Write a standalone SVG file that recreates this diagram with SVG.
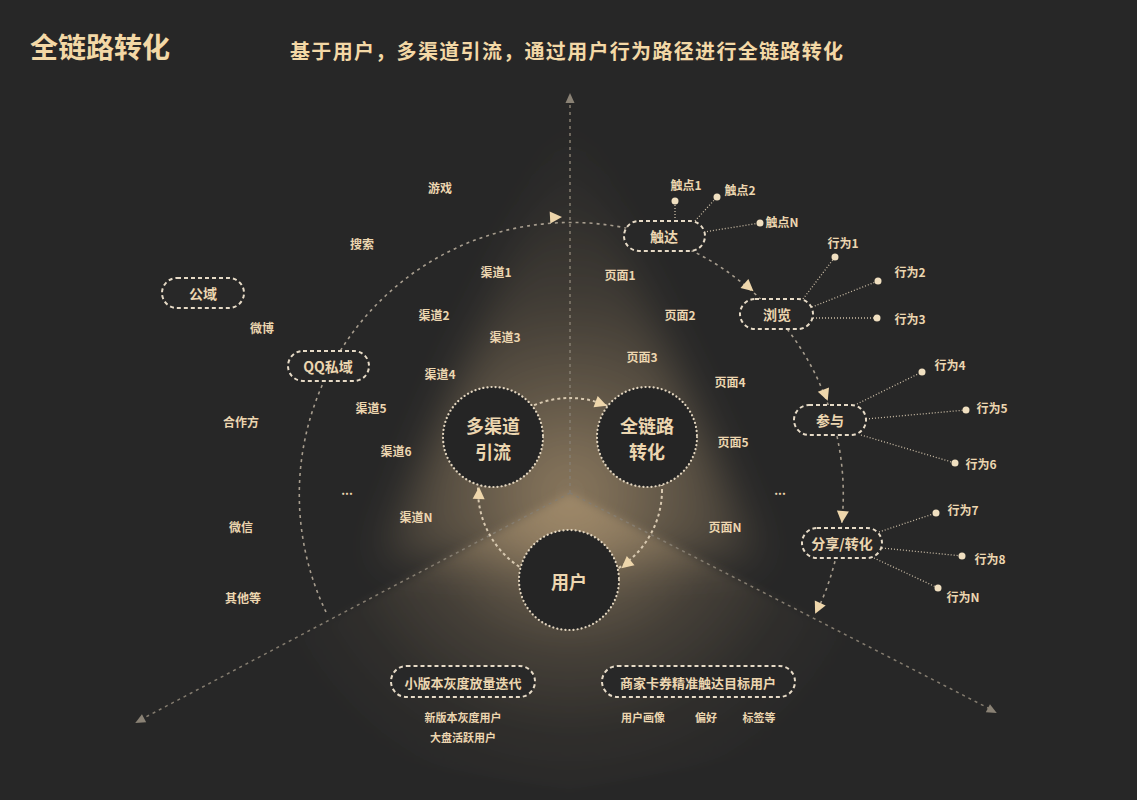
<svg xmlns="http://www.w3.org/2000/svg" xmlns:xlink="http://www.w3.org/1999/xlink" width="1137" height="800" viewBox="0 0 1137 800">
<defs>
<radialGradient id="glowUp" cx="570" cy="493" r="380" gradientUnits="userSpaceOnUse">
<stop offset="0" stop-color="#a08a6a" stop-opacity="0.85"/>
<stop offset="0.25" stop-color="#a08a6a" stop-opacity="0.5"/>
<stop offset="0.5" stop-color="#a08a6a" stop-opacity="0.22"/>
<stop offset="0.75" stop-color="#a08a6a" stop-opacity="0.07"/>
<stop offset="1" stop-color="#a08a6a" stop-opacity="0"/>
</radialGradient>
<radialGradient id="glowDown" cx="570" cy="493" r="320" gradientUnits="userSpaceOnUse">
<stop offset="0" stop-color="#a08a6a" stop-opacity="0.9"/>
<stop offset="0.25" stop-color="#a08a6a" stop-opacity="0.55"/>
<stop offset="0.5" stop-color="#a08a6a" stop-opacity="0.25"/>
<stop offset="0.75" stop-color="#a08a6a" stop-opacity="0.07"/>
<stop offset="1" stop-color="#a08a6a" stop-opacity="0"/>
</radialGradient>
<filter id="blur" x="-30%" y="-30%" width="160%" height="160%"><feGaussianBlur stdDeviation="20"/></filter>
<filter id="blur2" x="-20%" y="-20%" width="140%" height="140%"><feGaussianBlur stdDeviation="5"/></filter>
<path id="ah" d="M2,0 L-10,-6 L-10,6 Z"/>
<path id="gah" d="M2,0 L-8,-4.5 L-8,4.5 Z"/>
<style>
.bg{fill:#272727}
.t{font-family:"Noto Sans CJK SC","Noto Sans",sans-serif;font-weight:bold;fill:#ecd6b0;text-anchor:middle;dominant-baseline:central}
.lab{font-size:12px}
.nt{font-size:14px}
.ct{font-size:18px}
.axis{fill:none;stroke:#857d70;stroke-width:1.5;stroke-dasharray:3 4}
.arc{fill:none;stroke:#a79d8e;stroke-width:1.6;stroke-dasharray:3 4}
.iarc{fill:none;stroke:#d8c9b0;stroke-width:2;stroke-dasharray:3 3}
.pill{fill:#282828;stroke:#e6dac6;stroke-width:2;stroke-dasharray:4 3}
.circ{fill:#252525;stroke:#e2d5bf;stroke-width:2.2;stroke-dasharray:0.1 4;stroke-linecap:round}
.lk{fill:none;stroke:#cdbfa8;stroke-width:1.3;stroke-dasharray:1 2}
.dot{fill:#f0dfc0}
.ahf{fill:#eed6ab}
.gah{fill:#8a8275}
</style>
</defs>
<rect class="bg" x="0" y="0" width="1137" height="800"/>
<polygon points="570,120 380,560 760,560" fill="url(#glowUp)" filter="url(#blur)"/>
<polygon points="570,493 137,722 570,790 995,712" fill="url(#glowDown)" filter="url(#blur2)"/>

<g id="title">
<text class="t" x="30" y="46" style="font-size:28px;text-anchor:start;fill:#f3d8a6">全链路转化</text>
<text class="t" x="290" y="50" textLength="553" style="font-size:20px;text-anchor:start;fill:#f3d8a6">基于用户，多渠道引流，通过用户行为路径进行全链路转化</text>
</g>

<g id="connectors">
<line class="axis" x1="570" y1="493" x2="570" y2="100"/>
<line class="axis" x1="570" y1="493" x2="142" y2="719"/>
<line class="axis" x1="570" y1="493" x2="990" y2="709"/>
<use xlink:href="#gah" class="gah" transform="translate(570,95) rotate(-90)"/>
<use xlink:href="#gah" class="gah" transform="translate(137,722) rotate(152)"/>
<use xlink:href="#gah" class="gah" transform="translate(995,712) rotate(27.3)"/>
<path class="arc" d="M326,612 A272,272 0 1 1 818,609"/>
<use xlink:href="#ah" class="ahf" transform="translate(560,217) rotate(-3)"/>
<use xlink:href="#ah" class="ahf" transform="translate(752,290) rotate(41)"/>
<use xlink:href="#ah" class="ahf" transform="translate(827,399) rotate(69)"/>
<use xlink:href="#ah" class="ahf" transform="translate(842,521) rotate(95)"/>
<use xlink:href="#ah" class="ahf" transform="translate(816,612) rotate(115)"/>
<circle class="iarc" cx="570" cy="490" r="92"/>
<use xlink:href="#ah" class="ahf" transform="translate(605,405) rotate(20)"/>
<use xlink:href="#ah" class="ahf" transform="translate(623,567) rotate(140)"/>
<use xlink:href="#ah" class="ahf" transform="translate(479,489) rotate(-88)"/>
<line class="lk" x1="675" y1="221" x2="675" y2="201"/>
<line class="lk" x1="695" y1="221" x2="717" y2="197"/>
<line class="lk" x1="704" y1="232" x2="760" y2="223"/>
<line class="lk" x1="803" y1="299" x2="835" y2="257"/>
<line class="lk" x1="812" y1="307" x2="878" y2="281"/>
<line class="lk" x1="813" y1="318" x2="877" y2="318"/>
<line class="lk" x1="857" y1="404" x2="922" y2="372"/>
<line class="lk" x1="866" y1="419" x2="966" y2="410"/>
<line class="lk" x1="861" y1="435" x2="955" y2="463"/>
<line class="lk" x1="879" y1="532" x2="936" y2="513"/>
<line class="lk" x1="882" y1="548" x2="962" y2="556"/>
<line class="lk" x1="874" y1="558" x2="938" y2="588"/>
<circle class="dot" cx="675" cy="201" r="3.5"/>
<circle class="dot" cx="717" cy="197" r="3.5"/>
<circle class="dot" cx="760" cy="223" r="3.5"/>
<circle class="dot" cx="835" cy="257" r="3.5"/>
<circle class="dot" cx="878" cy="281" r="3.5"/>
<circle class="dot" cx="877" cy="318" r="3.5"/>
<circle class="dot" cx="922" cy="372" r="3.5"/>
<circle class="dot" cx="966" cy="410" r="3.5"/>
<circle class="dot" cx="955" cy="463" r="3.5"/>
<circle class="dot" cx="936" cy="513" r="3.5"/>
<circle class="dot" cx="962" cy="556" r="3.5"/>
<circle class="dot" cx="938" cy="588" r="3.5"/>
</g>

<g id="node-duoqudao"><circle class="circ" cx="493" cy="437" r="50"/><text class="t ct" x="493" y="425">多渠道</text><text class="t ct" x="493" y="451">引流</text></g>
<g id="node-quanlianlu"><circle class="circ" cx="647" cy="437" r="50"/><text class="t ct" x="647" y="425">全链路</text><text class="t ct" x="647" y="451">转化</text></g>
<g id="node-yonghu"><circle class="circ" cx="569" cy="580" r="50"/><text class="t ct" x="569" y="581">用户</text></g>

<g id="node-gongyu"><rect class="pill" x="162" y="278" width="82" height="30" rx="15"/><text class="t nt" x="203" y="293">公域</text></g>
<g id="node-qq"><rect class="pill" x="288" y="351" width="81" height="30" rx="15"/><text class="t nt" x="328" y="366">QQ私域</text></g>
<g id="node-chuda"><rect class="pill" x="624" y="221" width="81" height="30" rx="15"/><text class="t nt" x="664" y="236">触达</text></g>
<g id="node-liulan"><rect class="pill" x="740" y="299" width="73" height="30" rx="15"/><text class="t nt" x="777" y="314">浏览</text></g>
<g id="node-canyu"><rect class="pill" x="794" y="405" width="72" height="30" rx="15"/><text class="t nt" x="830" y="420">参与</text></g>
<g id="node-fenxiang"><rect class="pill" x="802" y="528" width="80" height="30" rx="15"/><text class="t nt" x="842" y="543">分享/转化</text></g>
<g id="node-xiaoban"><rect class="pill" x="391" y="666" width="144" height="31" rx="15.5"/><text class="t nt" x="463" y="682" style="font-size:13px">小版本灰度放量迭代</text></g>
<g id="node-shangjia"><rect class="pill" x="602" y="666" width="193" height="31" rx="15.5"/><text class="t nt" x="698" y="682" style="font-size:13px">商家卡券精准触达目标用户</text></g>

<g id="labels">
<text class="t lab" x="440" y="187">游戏</text>
<text class="t lab" x="362" y="243">搜索</text>
<text class="t lab" x="262" y="327">微博</text>
<text class="t lab" x="241" y="421">合作方</text>
<text class="t lab" x="241" y="526">微信</text>
<text class="t lab" x="243" y="597">其他等</text>
<text class="t lab" x="347" y="489">...</text>
<text class="t lab" x="496" y="271">渠道1</text>
<text class="t lab" x="434" y="314">渠道2</text>
<text class="t lab" x="505" y="336">渠道3</text>
<text class="t lab" x="440" y="373">渠道4</text>
<text class="t lab" x="371" y="407">渠道5</text>
<text class="t lab" x="396" y="450">渠道6</text>
<text class="t lab" x="416" y="516">渠道N</text>
<text class="t lab" x="620" y="274">页面1</text>
<text class="t lab" x="680" y="314">页面2</text>
<text class="t lab" x="642" y="356">页面3</text>
<text class="t lab" x="730" y="381">页面4</text>
<text class="t lab" x="733" y="441">页面5</text>
<text class="t lab" x="780" y="489">...</text>
<text class="t lab" x="725" y="526">页面N</text>
<text class="t lab" x="686" y="184">触点1</text>
<text class="t lab" x="740" y="189">触点2</text>
<text class="t lab" x="782" y="221">触点N</text>
<text class="t lab" x="843" y="242">行为1</text>
<text class="t lab" x="910" y="271">行为2</text>
<text class="t lab" x="910" y="318">行为3</text>
<text class="t lab" x="950" y="364">行为4</text>
<text class="t lab" x="992" y="407">行为5</text>
<text class="t lab" x="981" y="463">行为6</text>
<text class="t lab" x="963" y="509">行为7</text>
<text class="t lab" x="990" y="558">行为8</text>
<text class="t lab" x="963" y="596">行为N</text>
<text class="t lab" x="463" y="717" style="font-size:11px">新版本灰度用户</text>
<text class="t lab" x="463" y="737" style="font-size:11px">大盘活跃用户</text>
<text class="t lab" x="643" y="717" style="font-size:11px">用户画像</text>
<text class="t lab" x="706" y="717" style="font-size:11px">偏好</text>
<text class="t lab" x="759" y="717" style="font-size:11px">标签等</text>
</g>
</svg>
